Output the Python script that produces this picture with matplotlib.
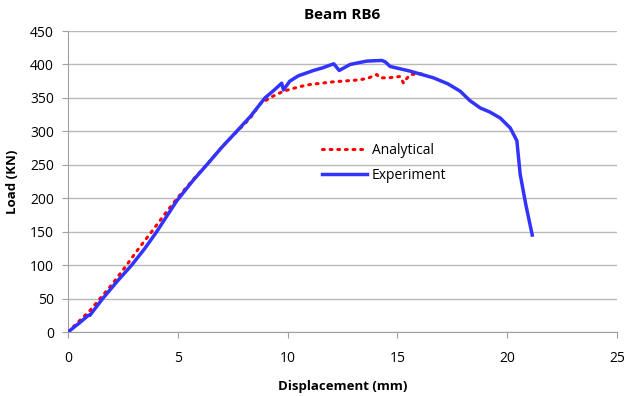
import matplotlib
matplotlib.use("Agg")
import matplotlib.pyplot as plt

exp_x = [0, 0.5, 0.93, 1.0, 1.58, 2.3, 2.9, 3.5, 4.04, 4.95, 5.68, 6.32, 7.0, 7.68, 8.3, 8.97, 9.4, 9.73, 9.81,
         10.1, 10.49, 11.18, 11.6, 12.1, 12.2, 12.35, 12.85, 13.6, 14.29, 14.44, 14.67, 15.58, 16.64, 17.3,
         17.86, 18.3, 18.77, 19.2, 19.68, 20.14, 20.44, 20.59, 20.85, 21.14]
exp_y = [0, 13, 25, 25, 50, 78, 100, 125, 150, 196, 226, 250, 276, 300, 322, 350, 362, 372, 362,
         375, 383, 391, 395, 401, 397, 391, 400, 405, 406, 404, 397, 390, 380, 371,
         360, 346, 335, 329, 320, 305, 286, 236, 190, 145]

ana_x = [0, 0.5, 1.0, 1.46, 2.0, 2.67, 3.2, 3.81, 4.4, 5.0, 5.7, 6.4, 7.1, 7.8, 8.3, 8.75, 9.3, 9.81,
         10.57, 11.03, 12.07, 13.3, 13.7, 14.06, 14.2, 14.6, 15.12, 15.28, 15.4, 15.58, 16.19]
ana_y = [0, 16, 32, 50, 71, 100, 124, 150, 176, 201, 228, 253, 280, 303, 320, 341, 352, 360,
         367, 370, 374, 377, 380, 385, 380, 380, 382, 372, 378, 385, 386]

x_ticks = [0, 5, 10, 15, 20, 25]
y_ticks = [0, 50, 100, 150, 200, 250, 300, 350, 400, 450]

fam = ["Open Sans", "DejaVu Sans"]
plt.rcParams["font.family"] = fam

fig = plt.figure(figsize=(6.25, 3.96), dpi=100)
ax = fig.add_axes([0.1088, 0.1616, 0.8784, 0.7601])

ax.plot(ana_x, ana_y, color="#ff0000", linestyle=(0, (0.6, 1.9)), dash_capstyle="round",
        linewidth=2.2, label="Analytical", zorder=3)
ax.plot(exp_x, exp_y, color="#3333ff", linewidth=2.5, label="Experiment", zorder=4,
        solid_joinstyle="round")

ax.set_xlim(0, 25)
ax.set_ylim(0, 450)
ax.set_xticks(x_ticks)
ax.set_yticks(y_ticks)
ax.yaxis.grid(True, color="#b8b8b8", linewidth=1)
ax.set_axisbelow(True)
for s in ["top", "right"]:
    ax.spines[s].set_visible(False)
for s in ["left", "bottom"]:
    ax.spines[s].set_color("#a0a0a0")
ax.tick_params(axis="both", colors="#a0a0a0", labelcolor="black", labelsize=10, length=4)
ax.tick_params(axis="x", pad=10)
ax.tick_params(axis="y", pad=6)

ax.set_title("Beam RB6", fontsize=11, fontweight="bold", pad=9)
ax.set_xlabel("Displacement (mm)", fontsize=9.5, fontweight="bold", labelpad=10)
ax.set_ylabel("Load (KN)", fontsize=9.5, fontweight="bold", labelpad=8)

ax.legend(loc="upper left", bbox_to_anchor=(0.44, 0.67), frameon=False, fontsize=10,
          handlelength=3.2, handletextpad=0.4, labelspacing=0.7)

fig.savefig("out.png", dpi=100)
